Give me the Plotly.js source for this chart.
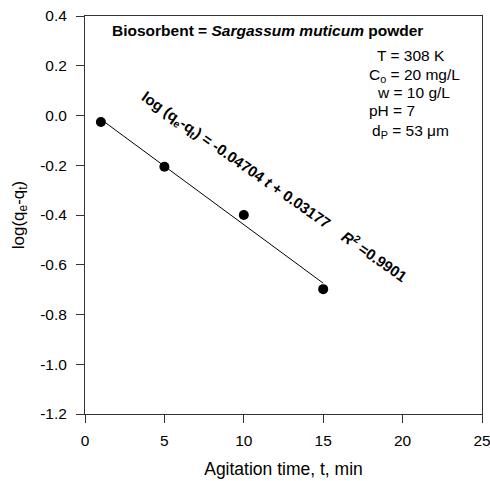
<!DOCTYPE html>
<html>
<head>
<meta charset="utf-8">
<script src="https://cdn.plot.ly/plotly-3.0.1.min.js"></script>
<style>html,body{margin:0;padding:0;background:#fff;}#chart{width:490px;height:481px;}</style>
</head>
<body>
<div id="chart"></div>
<script>
// Data
const timeMin = [1, 5, 10, 15];
const logQeQt = [-0.026, -0.206, -0.400, -0.698];
const fitTime = [1, 15];
const fitLog = [-0.0153, -0.674];
const xTickVals = [0, 5, 10, 15, 20, 25];
const xTickText = ['0', '5', '10', '15', '20', '25'];
const yTickVals = [0.4, 0.2, 0.0, -0.2, -0.4, -0.6, -0.8, -1.0, -1.2];
const yTickText = ['0.4', '0.2', '0.0', '-0.2', '-0.4', '-0.6', '-0.8', '-1.0', '-1.2'];

const font = 'Liberation Sans, Arial, sans-serif';
const f = (size) => ({family: font, size: size, color: '#000'});

const traces = [
  {x: fitTime, y: fitLog, mode: 'lines', line: {color: '#000', width: 1}, hoverinfo: 'skip', showlegend: false},
  {x: timeMin, y: logQeQt, mode: 'markers', marker: {color: '#000', size: 10}, showlegend: false}
];

// paper coords helpers: plot area px left 85 .. 482, top 16 .. 414
const px = v => (v - 85) / (482 - 85);
const py = v => (414 - v) / (414 - 16);

const ann = (text, x, y, extra) => Object.assign({text, x: px(x), y: py(y), xref: 'paper', yref: 'paper',
  showarrow: false, xanchor: 'center', yanchor: 'middle', font: f(15.5)}, extra || {});

const layout = {
  width: 490, height: 481,
  margin: {l: 85, r: 8, t: 16, b: 67},
  paper_bgcolor: '#fff', plot_bgcolor: '#fff',
  font: f(15.5),
  xaxis: {
    range: [0, 25], tickvals: xTickVals, ticktext: xTickText,
    showgrid: false, zeroline: false, showline: true, linecolor: '#333', linewidth: 1, mirror: true,
    ticks: 'outside', ticklen: 8, tickcolor: '#333', tickwidth: 1, ticklabelstandoff: 4,
    ticklabeloverflow: 'allow',
    tickfont: f(15.5),
    title: {text: 'Agitation time, t, min', font: f(17.5), standoff: 15}
  },
  yaxis: {
    range: [-1.2, 0.4], tickvals: yTickVals, ticktext: yTickText,
    showgrid: false, zeroline: false, showline: true, linecolor: '#333', linewidth: 1, mirror: true,
    ticks: 'outside', ticklen: 8, tickcolor: '#333', tickwidth: 1, ticklabelstandoff: 6,
    ticklabeloverflow: 'allow',
    tickfont: f(15.5),
    title: {text: 'log(q<sub>e</sub>-q<sub>t</sub>)', font: f(17), standoff: 11}
  },
  annotations: [
    ann('<b>Biosorbent = <i>Sargassum muticum</i> powder</b>', 267, 30),
    ann('T = 308 K', 411, 55),
    ann('C<sub>o</sub> = 20 mg/L', 414, 75),
    ann('w = 10 g/L', 413, 92),
    ann('pH = 7', 392, 111),
    ann('d<sub>P</sub> = 53 \u03bcm', 410, 131),
    ann('<b>log (q<sub>e</sub>-q<sub>t</sub>) = -0.04704 <i>t</i> + 0.03177</b>', 236, 160, {textangle: 35, font: f(15)}),
    ann('<b><i>R</i><sup>2</sup> =0.9901</b>', 375, 256, {textangle: 35, font: f(15)})
  ]
};

Plotly.newPlot('chart', traces, layout, {staticPlot: true, displayModeBar: false});
</script>
</body>
</html>
